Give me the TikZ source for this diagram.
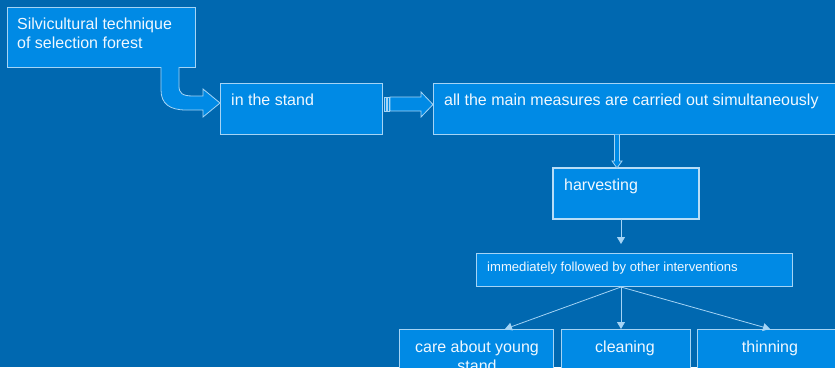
\documentclass[tikz,border=0pt]{standalone}
\usepackage{fontspec}
\setmainfont{Liberation Sans}
\usetikzlibrary{arrows.meta,calc}
\definecolor{bg}{RGB}{0,104,176}
\definecolor{boxfill}{RGB}{0,138,229}
\definecolor{edge}{RGB}{165,212,245}
\definecolor{txt}{RGB}{240,248,255}
\tikzset{
  box/.style={draw=edge, fill=boxfill, line width=0.9pt, anchor=north west, inner sep=0pt, outer sep=0pt},
  lab/.style={anchor=base west, inner sep=0pt, text=txt, font=\fontsize{16}{19}\selectfont},
  clab/.style={anchor=base, inner sep=0pt, text=txt, font=\fontsize{16}{19}\selectfont},
  slab/.style={anchor=base west, inner sep=0pt, text=txt, font=\fontsize{13.1}{15}\selectfont},
  blockarrow/.style={draw=edge, fill=boxfill, line width=0.8pt, line join=miter},
  thin/.style={draw=edge, line width=0.8pt, -{Triangle[length=7pt,width=8pt]}},
}
\begin{document}
\begin{tikzpicture}[x=1pt,y=-1pt]
\useasboundingbox (0,0) rectangle (835,367);
\fill[bg] (0,0) rectangle (835,367);
\clip (0,0) rectangle (835,367);
% boxes
\node[box, minimum width=188, minimum height=60] (b1) at (7,7) {};
\node[box, minimum width=162, minimum height=51] (b2) at (220,83) {};
\node[box, minimum width=410, minimum height=51] (b3) at (433,83) {};
\node[box, line width=2.6pt, draw=edge!80!white, minimum width=146, minimum height=51] (b4) at (553,168) {};
\node[box, minimum width=316, minimum height=33] (b5) at (476,253) {};
\node[box, minimum width=154, minimum height=60] (b6) at (399,329) {};
\node[box, minimum width=129, minimum height=60] (b7) at (561,329) {};
\node[box, minimum width=150, minimum height=60] (b8) at (697,329) {};
% texts
\node[lab] (t1a) at (17,29) {Silvicultural technique};
\node[lab] (t1b) at (17,48) {of selection forest};
\node[lab] (t2) at (231,105) {in the stand};
\node[lab] (t3) at (444,105) {all the main measures are carried out simultaneously};
\node[lab] (t4) at (564,190) {harvesting};
\node[slab] (t5) at (487,271) {immediately followed by other interventions};
\node[clab] (t6a) at (477,352) {care about young};
\node[clab] (t6b) at (477,371) {stand};
\node[clab] (t7) at (625,352) {cleaning};
\node[clab] (t8) at (770,352) {thinning};
% curved block arrow b1 -> b2
\draw[blockarrow] (161,67) -- (161,90) .. controls (161,104) and (170,110) .. (186,110)
  -- (203,110) -- (203,117) -- (220,103) -- (203,89) -- (203,96) -- (193,96)
  .. controls (182,96) and (179,93) .. (179,86) -- (179,67);
% straight block arrow b2 -> b3
\draw[blockarrow] (384,97) rectangle (386,111);
\draw[blockarrow] (387,97) rectangle (389,111);
\draw[blockarrow] (390,97) -- (421,97) -- (421,92) -- (433,104.5) -- (421,117) -- (421,111) -- (390,111) -- cycle;
% vertical block arrow b3 -> b4
\draw[blockarrow] (614.5,134.5) -- (614.5,161) -- (612,161) -- (617,168) -- (622,161) -- (619.5,161) -- (619.5,134.5);
% thin arrows
\coordinate (h1) at (621,244);
\coordinate (s5) at (621,287);
\coordinate (e6) at (505,329);
\coordinate (e7) at (621,329);
\coordinate (e8) at (770,329);
\draw[thin] (b4.south -| h1) -- (h1);
\draw[thin] (s5) -- (e6);
\draw[thin] (s5) -- (e7);
\draw[thin] (s5) -- (e8);
\end{tikzpicture}
\end{document}
